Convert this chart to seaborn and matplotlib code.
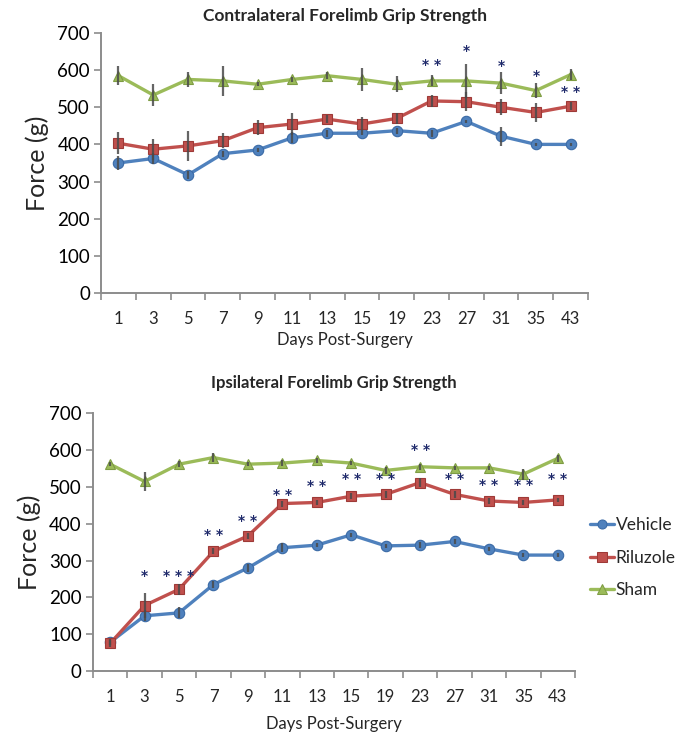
import numpy as np
import pandas as pd
import matplotlib
matplotlib.use("Agg")
import matplotlib.pyplot as plt
import seaborn as sns

# Post-surgery test days (categorical axis)
days = ["1", "3", "5", "7", "9", "11", "13", "15", "19", "23", "27", "31", "35", "43"]
groups = ["Vehicle", "Riluzole", "Sham"]

# Contralateral forelimb grip strength (g), mean and SEM
contra_vehicle = [350, 362, 318, 375, 385, 418, 430, 430, 437, 430, 462, 422, 400, 400]
contra_riluzole = [403, 387, 396, 410, 445, 455, 468, 455, 470, 517, 515, 500, 486, 503]
contra_sham = [585, 533, 575, 571, 562, 575, 585, 575, 562, 571, 571, 565, 545, 588]
contra_vehicle_sem = [20, 15, 10, 8, 6, 15, 10, 6, 8, 10, 5, 25, 5, 5]
contra_riluzole_sem = [30, 28, 40, 20, 20, 30, 10, 20, 15, 15, 25, 22, 25, 10]
contra_sham_sem = [25, 30, 20, 40, 6, 6, 10, 30, 22, 15, 45, 30, 20, 15]

# Ipsilateral forelimb grip strength (g), mean and SEM
ipsi_vehicle = [78, 150, 158, 235, 280, 335, 342, 370, 340, 342, 352, 332, 315, 315]
ipsi_riluzole = [75, 178, 222, 325, 367, 455, 458, 475, 480, 512, 480, 462, 458, 465]
ipsi_sham = [562, 515, 562, 580, 562, 565, 572, 565, 545, 555, 552, 552, 535, 578]
ipsi_vehicle_sem = [8, 15, 15, 10, 12, 12, 6, 6, 6, 8, 6, 5, 5, 5]
ipsi_riluzole_sem = [10, 35, 15, 8, 8, 8, 6, 8, 10, 12, 10, 8, 8, 5]
ipsi_sham_sem = [5, 25, 8, 12, 6, 8, 6, 6, 10, 8, 6, 6, 15, 10]

# Significance annotations: (day, stars, height in g)
contra_stars = [("23", "**", 614), ("27", "*", 652), ("31", "*", 612),
                ("35", "*", 583), ("43", "**", 540)]
ipsi_stars = [("3", "*", 258), ("5", "***", 258), ("7", "**", 370),
              ("9", "**", 408), ("11", "**", 479), ("13", "**", 503),
              ("15", "**", 523), ("19", "**", 523), ("23", "**", 600),
              ("27", "**", 523), ("31", "**", 505), ("35", "**", 505),
              ("43", "**", 523)]

palette = {"Vehicle": "#4F81BD", "Riluzole": "#C0504D", "Sham": "#9BBB59"}
edge = {"Vehicle": "#3A6AA6", "Riluzole": "#9E3A37", "Sham": "#7E9C43"}
markers = {"Vehicle": "o", "Riluzole": "s", "Sham": "^"}
star_color = "#1F2A6B"
axis_color = "#8C8C8C"

sns.set_theme(style="white")
plt.rcParams["font.family"] = ["Lato", "DejaVu Sans"]


def long_table(means, sems):
    rows = []
    for g, m, s in zip(groups, means, sems):
        for i, (d, v, e) in enumerate(zip(days, m, s)):
            rows.append({"day": d, "pos": i, "group": g, "force": v, "sem": e})
    return pd.DataFrame(rows)


def draw_panel(ax, df, title, stars, legend, title_size, title_pad, xlabel_pad):
    sns.lineplot(data=df, x="pos", y="force", hue="group", style="group",
                 palette=palette, markers=markers, dashes=False,
                 markersize=7.5, linewidth=2.4, legend=legend, ax=ax,
                 zorder=2)
    # colour each series' marker edges
    for line, g in zip(ax.lines, groups):
        line.set_markeredgecolor(edge[g])
        line.set_markeredgewidth(0.8)
    # error bars as plain vertical lines
    ax.vlines(df["pos"], df["force"] - df["sem"], df["force"] + df["sem"],
              color="#4A4A4A", linewidth=1.6, alpha=0.85, zorder=3)
    for d, s, y in stars:
        ax.text(days.index(d), y, " ".join(s), color=star_color,
                fontsize=10, fontweight="bold", ha="center", va="center",
                family="DejaVu Sans")

    ax.set_xlim(-0.5, len(days) - 0.5)
    ax.set_ylim(0, 700)
    ax.set_yticks(range(0, 701, 100))
    ax.tick_params(axis="y", labelsize=13.5, colors=axis_color,
                   labelcolor="black", length=5, width=1.2, direction="out",
                   left=True, pad=3)
    # category labels centred, tick marks between categories
    ax.set_xticks(range(len(days)))
    ax.set_xticklabels(days)
    ax.set_xticks(np.arange(-0.5, len(days)), minor=True)
    ax.tick_params(axis="x", which="major", length=0, labelsize=12, pad=13)
    ax.tick_params(axis="x", which="minor", length=5, width=1.2,
                   colors=axis_color, direction="out", bottom=True)
    for side in ("top", "right"):
        ax.spines[side].set_visible(False)
    for side in ("left", "bottom"):
        ax.spines[side].set_color(axis_color)
        ax.spines[side].set_linewidth(1.4)
    ax.set_title(title, fontsize=title_size, fontweight="bold", pad=title_pad)
    ax.set_xlabel("Days Post-Surgery", fontsize=12, labelpad=xlabel_pad)
    ax.set_ylabel("Force (g)", fontsize=18, labelpad=6)


fig = plt.figure(figsize=(6.83, 7.34), dpi=100)
ax1 = fig.add_axes([0.148, 0.601, 0.713, 0.354])
ax2 = fig.add_axes([0.136, 0.0858, 0.706, 0.351])

contra = long_table([contra_vehicle, contra_riluzole, contra_sham],
                    [contra_vehicle_sem, contra_riluzole_sem, contra_sham_sem])
ipsi = long_table([ipsi_vehicle, ipsi_riluzole, ipsi_sham],
                  [ipsi_vehicle_sem, ipsi_riluzole_sem, ipsi_sham_sem])

draw_panel(ax1, contra, "Contralateral Forelimb Grip Strength", contra_stars,
           False, title_size=12.5, title_pad=9, xlabel_pad=4)
draw_panel(ax2, ipsi, "Ipsilateral Forelimb Grip Strength", ipsi_stars,
           True, title_size=12, title_pad=18, xlabel_pad=8)

leg = ax2.legend(loc="center left", bbox_to_anchor=(1.03, 0.44), frameon=False,
                 fontsize=12.5, handlelength=1.4, handletextpad=0.1,
                 labelspacing=0.95, borderaxespad=0, borderpad=0)
for h, g in zip(leg.legend_handles, groups):
    h.set_markeredgecolor(edge[g])
    h.set_markersize(6.5)

fig.savefig("out.png", dpi=100)
